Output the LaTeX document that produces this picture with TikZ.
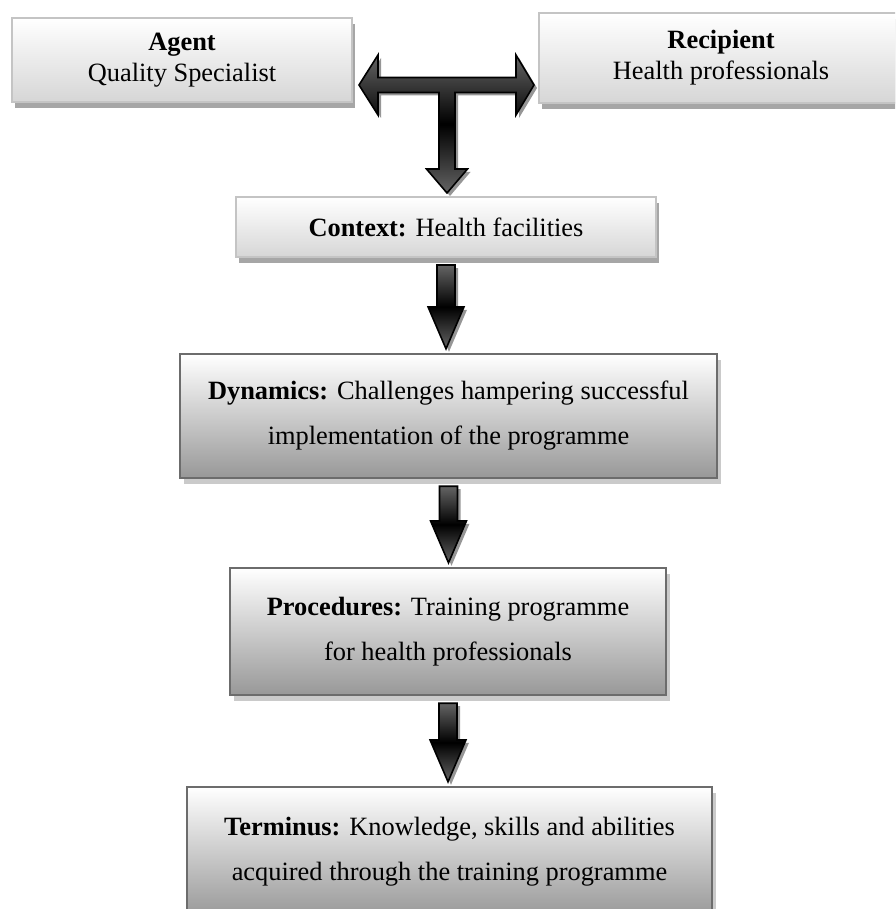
\documentclass[tikz,border=0pt]{standalone}
\usepackage{fontspec}
\setmainfont{Liberation Serif}
\usepackage{tikz}
\usetikzlibrary{calc,shadows}
\usepackage{xcolor}
\definecolor{lightedge}{RGB}{196,196,196}
\definecolor{lightbot}{RGB}{214,214,214}
\definecolor{lightshad}{RGB}{166,166,166}
\definecolor{darkedge}{RGB}{108,108,108}
\definecolor{darkbot}{RGB}{152,152,152}
\definecolor{darkshad}{RGB}{202,202,202}
\definecolor{arrowgray}{RGB}{100,100,100}
\definecolor{arrowshad}{RGB}{150,150,150}
\tikzset{
  % light boxes (top row and context)
  lightbox/.style = {draw=lightedge, line width=1pt, top color=white,
    bottom color=lightbot, inner sep=0pt, align=center,
    drop shadow={shadow xshift=1.5pt, shadow yshift=-3pt, fill=lightshad, opacity=1}},
  % darker boxes
  darkbox/.style  = {draw=darkedge, line width=1.2pt, top color=white,
    bottom color=darkbot, inner sep=0pt, align=center,
    drop shadow={shadow xshift=2.2pt, shadow yshift=-3pt, fill=darkshad, opacity=1}},
  % block arrows
  blockarrow/.style = {draw=black, line width=0.8pt, top color=arrowgray,
    bottom color=arrowgray, middle color=black,
    drop shadow={shadow xshift=1.5pt, shadow yshift=-1.5pt, fill=arrowshad, opacity=1}},
  % texts
  txt/.style      = {font=\fontsize{13.2}{22.5}\selectfont},
  txttight/.style = {font=\fontsize{13.2}{15.5}\selectfont},
}
\begin{document}
\begin{tikzpicture}[x=0.5pt, y=-0.5pt]
  \useasboundingbox (0,0) rectangle (895,909);
  \clip (0,0) rectangle (895,909);
  % top row
  \node[lightbox, txttight, minimum width=170pt, minimum height=42pt] (agent) at (182,60)
    {\textbf{Agent}\\Quality Specialist};
  \node[lightbox, txttight, minimum width=182pt, minimum height=45pt] (recip) at (721,58)
    {\textbf{Recipient}\\Health professionals};
  \coordinate (hub) at (447,85);
  % chain of boxes
  \node[lightbox, txt, minimum width=210pt, minimum height=30pt] (context) at (446,227)
    {\textbf{Context:} Health facilities};
  \node[darkbox, txt, minimum width=268.5pt, minimum height=62pt] (dyn) at (448.5,416)
    {\textbf{Dynamics:} Challenges hampering successful\\implementation of the programme};
  \node[darkbox, txt, minimum width=218pt, minimum height=63.5pt] (proc) at (448,631.5)
    {\textbf{Procedures:} Training programme\\for health professionals};
  \node[darkbox, txt, minimum width=262.5pt, minimum height=65pt] (term) at (449.5,852)
    {\textbf{Terminus:} Knowledge, skills and abilities\\acquired through the training programme};
  % T arrow
  \draw[blockarrow] let \p1=(agent.east), \p2=(recip.west), \p3=(context.north), \p4=(hub) in
    (\x1+3pt,\y4) -- (\x1+12.5pt,\y4+15pt) -- (\x1+12.5pt,\y4+3.75pt)
    -- (\x2-11pt,\y4+3.75pt) -- (\x2-11pt,\y4+15pt) -- (\x2-2pt,\y4)
    -- (\x2-11pt,\y4-15pt) -- (\x2-11pt,\y4-3.75pt) -- (\x4+4pt,\y4-3.75pt)
    -- (\x4+4pt,\y3+13.5pt) -- (\x4+10.25pt,\y3+13.5pt) -- (\x4,\y3+1.5pt)
    -- (\x4-10.25pt,\y3+13.5pt) -- (\x4-4pt,\y3+13.5pt) -- (\x4-4pt,\y4-3.75pt)
    -- (\x1+12.5pt,\y4-3.75pt) -- (\x1+12.5pt,\y4-15pt) -- cycle;
  % down arrows
  \foreach \a/\b in {context/dyn, dyn/proc, proc/term}
    \draw[blockarrow] let \p1=(\a.south), \p2=(\b.north) in
      (\x1-4.5pt,\y1-3.5pt) -- (\x1+4.5pt,\y1-3.5pt) -- (\x1+4.5pt,\y2+23pt)
      -- (\x1+9pt,\y2+23pt) -- (\x1,\y2+2pt) -- (\x1-9pt,\y2+23pt)
      -- (\x1-4.5pt,\y2+23pt) -- cycle;
\end{tikzpicture}
\end{document}
